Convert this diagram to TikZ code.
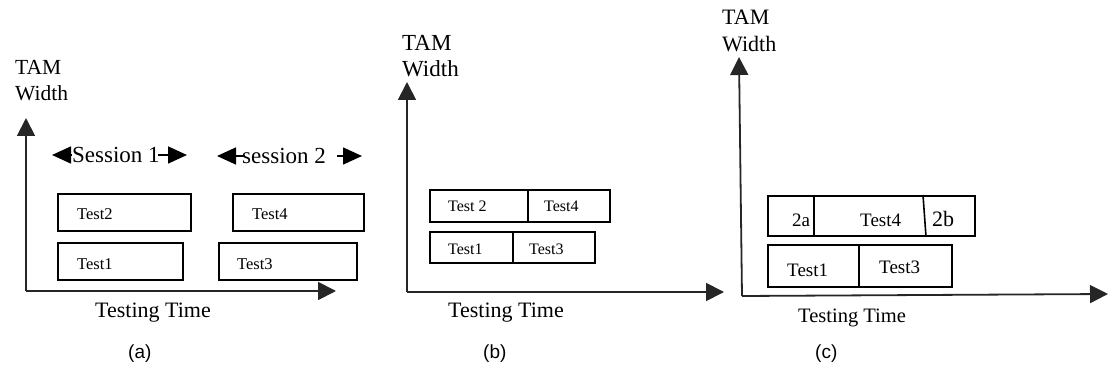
\documentclass[tikz,border=0pt]{standalone}
\usepackage{fontspec}
\setmainfont{Liberation Serif}
\newfontfamily\capfont{Liberation Sans}
\usetikzlibrary{arrows.meta}
\tikzset{
  axis/.style={line width=1.8pt, draw=black!85, -{Triangle[length=18pt,width=18pt]}},
  span/.style={line width=1.6pt, -{Triangle[length=19pt,width=17pt]}},
  box/.style={draw, line width=1.6pt, rectangle, inner sep=0pt, anchor=north west},
  divider/.style={line width=1.6pt},
  lbl/.style={inner sep=0pt, anchor=base west},
  axlbl/.style={lbl, font=\fontsize{21.5}{24}\selectfont},
  timelbl/.style={lbl, font=\fontsize{22}{24}\selectfont},
  tst/.style={lbl, font=\fontsize{16.5}{18}\selectfont},
  panellbl/.style={lbl, font=\capfont\fontsize{19}{21}\selectfont},
}
\begin{document}
\begin{tikzpicture}[x=1pt,y=-1pt]
\useasboundingbox (0,0) rectangle (1112,374);

% ---------- (a) two test sessions ----------
\coordinate (ao) at (26,291);
\coordinate (ay) at (26,118);
\coordinate (ax) at (336,291);
\draw[axis] (ao) -- (ay);
\draw[axis] (ao) -- (ax);
\node[axlbl] (atam) at (15,75) {TAM};
\node[axlbl] (awid) at (15,101) {Width};
\node[timelbl] (atime) at (95,318) {Testing Time};
\node[panellbl] (acap) at (128,358) {(a)};

\node[lbl, font=\fontsize{23}{25}\selectfont] (s1) at (72,163) {Session 1};
\node[lbl, font=\fontsize{23}{25}\selectfont] (s2) at (242,164) {session 2};
\coordinate (s1l) at (52,155);
\coordinate (s1r0) at (158,155);
\coordinate (s1r) at (187,155);
\coordinate (s2l0) at (245,156);
\coordinate (s2l) at (217,156);
\coordinate (s2r0) at (337,156);
\coordinate (s2r) at (362,156);
\draw[span] (s1l -| s1.west) -- (s1l);
\draw[span] (s1r0) -- (s1r);
\draw[span] (s2l0) -- (s2l);
\draw[span] (s2r0) -- (s2r);

\node[box, minimum width=133pt, minimum height=37pt] (a2) at (57,193) {};
\node[box, minimum width=125pt, minimum height=37pt] (a1) at (57,242) {};
\node[box, minimum width=131pt, minimum height=37pt] (a4) at (232,193) {};
\node[box, minimum width=138pt, minimum height=37pt] (a3) at (218,242) {};
\node[tst] (a2t) at (77,220) {Test2};
\node[tst] (a1t) at (77,270) {Test1};
\node[tst] (a4t) at (252,220) {Test4};
\node[tst] (a3t) at (237,270) {Test3};

% ---------- (b) packed schedule ----------
\coordinate (bo) at (407,292);
\coordinate (by) at (407,82);
\coordinate (bx) at (724,292);
\draw[axis] (bo) -- (by);
\draw[axis] (bo) -- (bx);
\node[lbl, font=\fontsize{23}{25}\selectfont] (btam) at (402,51) {TAM};
\node[lbl, font=\fontsize{23}{25}\selectfont] (bwid) at (402,77) {Width};
\node[timelbl] (btime) at (448,318) {Testing Time};
\node[panellbl] (bcap) at (483,359) {(b)};

\node[box, minimum width=98pt, minimum height=32pt] (b2) at (429,189) {};
\node[box, minimum width=82pt, minimum height=32pt] (b4) at (527,189) {};
\node[box, minimum width=83pt, minimum height=31pt] (b1) at (429,231) {};
\node[box, minimum width=82pt, minimum height=31pt] (b3) at (512,231) {};
\node[tst, font=\fontsize{16}{18}\selectfont] (b2t) at (448,212) {Test 2};
\node[tst, font=\fontsize{16}{18}\selectfont] (b4t) at (544,212) {Test4};
\node[tst, font=\fontsize{16}{18}\selectfont] (b1t) at (448,255) {Test1};
\node[tst, font=\fontsize{16}{18}\selectfont] (b3t) at (529,255) {Test3};

% ---------- (c) preemptive schedule ----------
\coordinate (co) at (742,296);
\coordinate (cy) at (739,57);
\coordinate (cx) at (1108,294);
\draw[axis] (co) -- (cy);
\draw[axis] (co) -- (cx);
\node[axlbl, font=\fontsize{22}{24}\selectfont] (ctam) at (722,25) {TAM};
\node[axlbl, font=\fontsize{22}{24}\selectfont] (cwid) at (722,52) {Width};
\node[timelbl, font=\fontsize{20.5}{23}\selectfont] (ctime) at (798,323) {Testing Time};
\node[panellbl] (ccap) at (815,358) {(c)};

\node[box, minimum width=207pt, minimum height=40pt] (ctop) at (767,195) {};
\node[box, minimum width=91pt, minimum height=42pt] (c1) at (767,244) {};
\node[box, minimum width=93pt, minimum height=42pt] (c3) at (858,244) {};
\draw[divider] (ctop.north west -| 814,0) -- (ctop.south west -| 814,0);
\draw[divider] (ctop.north west -| 923,0) -- (ctop.south west -| 926,0);
\node[tst, font=\fontsize{19}{21}\selectfont] (c2a) at (792,227) {2a};
\node[tst, font=\fontsize{19}{21}\selectfont] (c4t) at (860,227) {Test4};
\node[tst, font=\fontsize{22}{24}\selectfont] (c2b) at (932,227) {2b};
\node[tst, font=\fontsize{19}{21}\selectfont] (c1t) at (787,277) {Test1};
\node[tst, font=\fontsize{19}{21}\selectfont] (c3t) at (879,274) {Test3};
\end{tikzpicture}
\end{document}
